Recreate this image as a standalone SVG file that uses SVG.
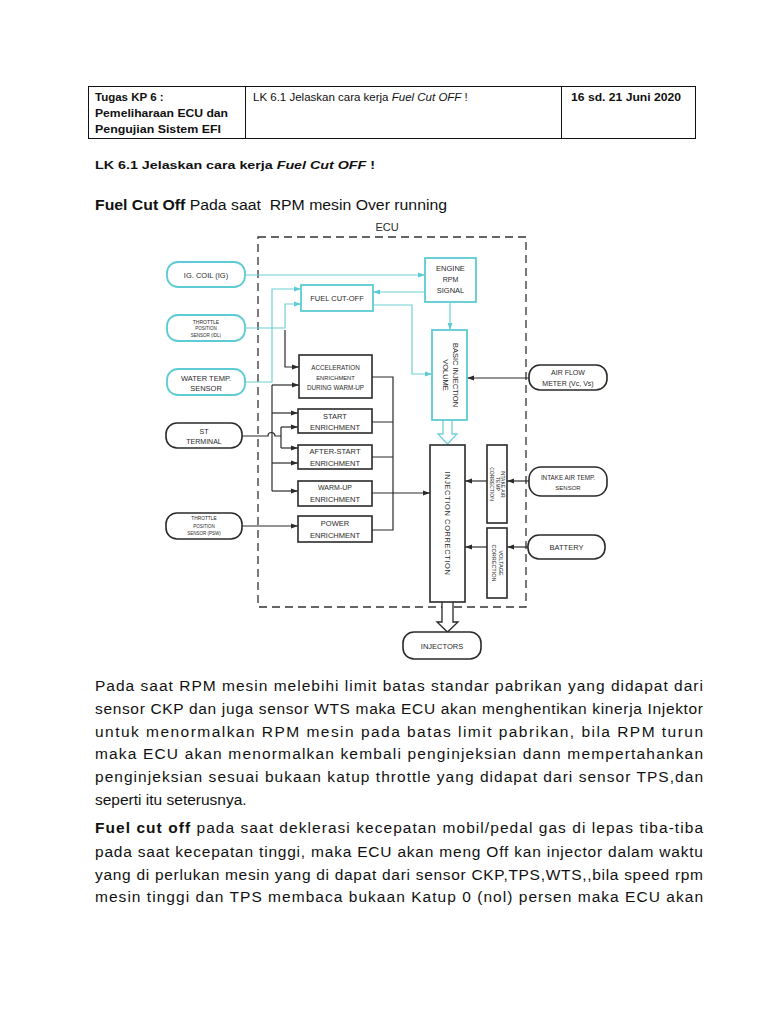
<svg xmlns="http://www.w3.org/2000/svg" width="768" height="1024" viewBox="0 0 768 1024">
<style>
.doc{font-family:"Liberation Sans",Arial,sans-serif;fill:#111}
.b{font-weight:bold}
.i{font-style:italic}
.t{font-family:"Liberation Sans",Arial,sans-serif;fill:#2a2a2a;text-anchor:middle}
.cy{fill:#fff;stroke:#5ccbd3;stroke-width:1.8}
.bk{fill:#fff;stroke:#2a2a2a;stroke-width:1.6}
.lc{fill:none;stroke:#6fd2d8;stroke-width:1.2}
.lb{fill:none;stroke:#2a2a2a;stroke-width:1.2}
</style>
<defs>
<marker id="ab" markerUnits="userSpaceOnUse" markerWidth="8" markerHeight="6" refX="7" refY="3" orient="auto"><path d="M0,0.5 L7,3 L0,5.5 Z" fill="#2a2a2a"/></marker>
<marker id="ac" markerUnits="userSpaceOnUse" markerWidth="8" markerHeight="6" refX="7" refY="3" orient="auto"><path d="M0,0.5 L7,3 L0,5.5 Z" fill="#5ccbd3"/></marker>
</defs>
<rect width="768" height="1024" fill="#fff"/>

<g id="header-table">
<rect x="88.5" y="86.5" width="607" height="52" fill="none" stroke="#111" stroke-width="1"/>
<line x1="245.5" y1="86.5" x2="245.5" y2="138.5" stroke="#111"/>
<line x1="561.5" y1="86.5" x2="561.5" y2="138.5" stroke="#111"/>
<text class="doc b" x="95" y="101" font-size="11.5">Tugas KP 6 :</text>
<text class="doc b" x="95" y="117" font-size="11.5" textLength="133" lengthAdjust="spacingAndGlyphs">Pemeliharaan ECU dan</text>
<text class="doc b" x="95" y="133" font-size="11.5" textLength="126" lengthAdjust="spacingAndGlyphs">Pengujian Sistem EFI</text>
<text class="doc" x="253" y="101" font-size="11.5">LK 6.1 Jelaskan cara kerja <tspan class="i">Fuel Cut OFF</tspan> !</text>
<text class="doc b" x="571" y="101" font-size="11.5" textLength="110" lengthAdjust="spacingAndGlyphs">16 sd. 21 Juni 2020</text>
</g>

<text class="doc b" x="95" y="169" font-size="11.5" textLength="280" lengthAdjust="spacingAndGlyphs">LK 6.1 Jelaskan cara kerja <tspan class="i">Fuel Cut OFF</tspan> !</text>
<text class="doc" x="95" y="210" font-size="15.5" textLength="352" lengthAdjust="spacingAndGlyphs" xml:space="preserve"><tspan class="b">Fuel Cut Off</tspan> Pada saat  RPM mesin Over running</text>

<g id="ecu-boundary">
<rect x="258" y="237" width="268" height="370" fill="none" stroke="#333" stroke-width="1.3" stroke-dasharray="8 5"/>
<text class="t" x="387" y="231" font-size="11">ECU</text>
</g>

<g id="connectors">
<path class="lc" d="M245,275 H425" marker-end="url(#ac)"/>
<path class="lc" d="M425,292 H373" marker-end="url(#ac)"/>
<path class="lc" d="M373,305 H412 V374 H432" marker-end="url(#ac)"/>
<path class="lc" d="M450,302 V330" marker-end="url(#ac)"/>
<path class="lc" d="M245,328 H285 V304 H301" marker-end="url(#ac)"/>
<path class="lc" d="M245,382 H272 V289 H301" marker-end="url(#ac)"/>
<path class="lb" d="M285,330 V367 H299" marker-end="url(#ab)"/>
<path class="lb" d="M272,385 V491"/>
<path class="lb" d="M272,385 H299" marker-end="url(#ab)"/>
<path class="lb" d="M272,413 H298" marker-end="url(#ab)"/>
<path class="lb" d="M272,463 H298" marker-end="url(#ab)"/>
<path class="lb" d="M272,491 H298" marker-end="url(#ab)"/>
<path class="lb" d="M242,436 H268 A3.5,3.5 0 0 1 275,436 H281 M281,427 V448"/>
<path class="lb" d="M281,427 H298" marker-end="url(#ab)"/>
<path class="lb" d="M281,448 H298" marker-end="url(#ab)"/>
<path class="lb" d="M242,526 H298" marker-end="url(#ab)"/>
<path class="lb" d="M372,377 H393 V530 H372 M372,422 H393 M372,457 H393"/>
<path class="lb" d="M372,493 H430" marker-end="url(#ab)"/>
<path class="lb" d="M529,378 H467" marker-end="url(#ab)"/>
<path class="lb" d="M529,481 H507" marker-end="url(#ab)"/>
<path class="lb" d="M487,481 H465" marker-end="url(#ab)"/>
<path class="lb" d="M528,547 H507" marker-end="url(#ab)"/>
<path class="lb" d="M487,547 H465" marker-end="url(#ab)"/>
<path d="M443,420 V434 H438 L447.5,444 L457,434 H452 V420" fill="#fff" stroke="#6fd2d8" stroke-width="1.3"/>
<path d="M442,602 V622 H437 L447.5,632 L458,622 H453 V602" fill="#fff" stroke="#2a2a2a" stroke-width="1.3"/>
</g>

<g id="ig-coil">
<rect class="cy" x="167" y="262" width="78" height="25" rx="11"/>
<text class="t" x="206" y="278" font-size="7.5">IG. COIL (IG)</text>
</g>
<g id="tps-idl">
<rect class="cy" x="167" y="315" width="78" height="26" rx="11"/>
<text class="t" x="206" y="324" font-size="5">THROTTLE</text>
<text class="t" x="206" y="330" font-size="4.5">POSITION</text>
<text class="t" x="206" y="337" font-size="4.5">SENSOR (IDL)</text>
</g>
<g id="water-temp">
<rect class="cy" x="167" y="369" width="78" height="26" rx="11"/>
<text class="t" x="206" y="381" font-size="7.5">WATER TEMP.</text>
<text class="t" x="206" y="391" font-size="7.5">SENSOR</text>
</g>
<g id="st-terminal">
<rect class="bk" x="166" y="423" width="76" height="25" rx="11"/>
<text class="t" x="204" y="434" font-size="7">ST</text>
<text class="t" x="204" y="444" font-size="7">TERMINAL</text>
</g>
<g id="tps-psw">
<rect class="bk" x="166" y="513" width="76" height="26" rx="11"/>
<text class="t" x="204" y="520" font-size="4.8">THROTTLE</text>
<text class="t" x="204" y="527.5" font-size="4.5">POSITION</text>
<text class="t" x="204" y="535" font-size="4.5">SENSOR (PSW)</text>
</g>
<g id="engine-rpm">
<rect class="cy" x="425" y="258" width="51" height="44"/>
<text class="t" x="450.5" y="271" font-size="7.5">ENGINE</text>
<text class="t" x="450.5" y="281.5" font-size="7">RPM</text>
<text class="t" x="450.5" y="293" font-size="7.5">SIGNAL</text>
</g>
<g id="fuel-cut-off">
<rect class="cy" x="301" y="285" width="72" height="26"/>
<text class="t" x="337" y="301" font-size="7.5">FUEL CUT-OFF</text>
</g>
<g id="basic-injection">
<rect class="cy" x="432" y="330" width="35" height="90"/>
<text class="t" font-size="7.5" transform="translate(449.5,375) rotate(90)"><tspan x="0" y="-3">BASIC INJECTION</tspan><tspan x="0" y="7">VOLUME</tspan></text>
</g>
<g id="accel-enrich">
<rect class="bk" x="299" y="355" width="73" height="43"/>
<text class="t" x="335.5" y="370" font-size="6.3">ACCELERATION</text>
<text class="t" x="335.5" y="380" font-size="5.8">ENRICHMENT</text>
<text class="t" x="335.5" y="390" font-size="6.3">DURING WARM-UP</text>
</g>
<g id="start-enrich">
<rect class="bk" x="298" y="409" width="74" height="24"/>
<text class="t" x="335" y="418.5" font-size="7.5">START</text>
<text class="t" x="335" y="430" font-size="7.5">ENRICHMENT</text>
</g>
<g id="after-start-enrich">
<rect class="bk" x="298" y="445" width="74" height="24"/>
<text class="t" x="335" y="454" font-size="7.5">AFTER-START</text>
<text class="t" x="335" y="465.5" font-size="7.5">ENRICHMENT</text>
</g>
<g id="warm-up-enrich">
<rect class="bk" x="298" y="481" width="74" height="25"/>
<text class="t" x="335" y="490" font-size="7">WARM-UP</text>
<text class="t" x="335" y="502" font-size="7.5">ENRICHMENT</text>
</g>
<g id="power-enrich">
<rect class="bk" x="298" y="516" width="74" height="26"/>
<text class="t" x="335" y="526" font-size="7.5">POWER</text>
<text class="t" x="335" y="538" font-size="7.5">ENRICHMENT</text>
</g>
<g id="injection-correction">
<rect class="bk" x="430" y="445" width="35" height="157"/>
<text class="t" font-size="7.5" transform="translate(447.5,523.5) rotate(90)" y="2.5" letter-spacing="0.6">INJECTION CORRECTION</text>
</g>
<g id="intake-air-temp-correction">
<rect class="bk" x="487" y="445" width="20" height="78"/>
<text class="t" font-size="5" transform="translate(497,484) rotate(90)"><tspan x="0" y="-4">INTAKE AIR</tspan><tspan x="0" y="1.5">TEMP</tspan><tspan x="0" y="7">CORRECTION</tspan></text>
</g>
<g id="voltage-correction">
<rect class="bk" x="487" y="528" width="20" height="70"/>
<text class="t" font-size="5.5" transform="translate(497,563) rotate(90)"><tspan x="0" y="-1.5">VOLTAGE</tspan><tspan x="0" y="5">CORRECTION</tspan></text>
</g>
<g id="air-flow-meter">
<rect class="bk" x="529" y="365" width="78" height="25" rx="11"/>
<text class="t" x="568" y="375" font-size="7">AIR FLOW</text>
<text class="t" x="568" y="385.5" font-size="7">METER (Vc, Vs)</text>
</g>
<g id="intake-air-temp-sensor">
<rect class="bk" x="529" y="467" width="78" height="29" rx="12"/>
<text class="t" x="568" y="480" font-size="6.3">INTAKE AIR TEMP.</text>
<text class="t" x="568" y="490" font-size="6">SENSOR</text>
</g>
<g id="battery">
<rect class="bk" x="528" y="535" width="77" height="24" rx="11"/>
<text class="t" x="566.5" y="550" font-size="7.5">BATTERY</text>
</g>
<g id="injectors">
<rect class="bk" x="403" y="632" width="78" height="27" rx="11"/>
<text class="t" x="442" y="649" font-size="7.5">INJECTORS</text>
</g>

<g id="paragraph-1" class="doc" font-size="15.5">
<text x="95" y="691" textLength="608" lengthAdjust="spacing">Pada saat RPM mesin melebihi limit batas standar pabrikan yang didapat dari</text>
<text x="95" y="714" textLength="608" lengthAdjust="spacing">sensor CKP dan juga sensor WTS maka ECU akan menghentikan kinerja Injektor</text>
<text x="95" y="737" textLength="608" lengthAdjust="spacing">untuk menormalkan RPM mesin pada batas limit pabrikan, bila RPM turun</text>
<text x="95" y="759" textLength="608" lengthAdjust="spacing">maka ECU akan menormalkan kembali penginjeksian dann mempertahankan</text>
<text x="95" y="782" textLength="608" lengthAdjust="spacing">penginjeksian sesuai bukaan katup throttle yang didapat dari sensor TPS,dan</text>
<text x="95" y="805">seperti itu seterusnya.</text>
</g>
<g id="paragraph-2" class="doc" font-size="15.5">
<text x="95" y="833" textLength="608" lengthAdjust="spacing"><tspan class="b">Fuel cut off</tspan> pada saat deklerasi kecepatan mobil/pedal gas di lepas tiba-tiba</text>
<text x="95" y="857" textLength="608" lengthAdjust="spacing">pada saat kecepatan tinggi, maka ECU akan meng Off kan injector dalam waktu</text>
<text x="95" y="880" textLength="608" lengthAdjust="spacing">yang di perlukan mesin yang di dapat dari sensor CKP,TPS,WTS,,bila speed rpm</text>
<text x="95" y="902" textLength="608" lengthAdjust="spacing">mesin tinggi dan TPS membaca bukaan Katup 0 (nol) persen maka ECU akan</text>
</g>
</svg>
